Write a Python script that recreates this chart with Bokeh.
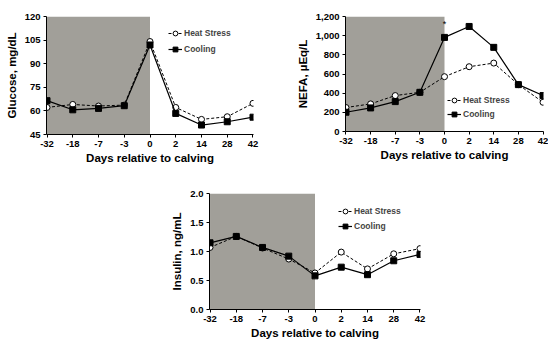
from bokeh.plotting import figure
from bokeh.models import (Range1d, FixedTicker, BoxAnnotation, Legend, LegendItem,
                          NumeralTickFormatter, Spacer, Label)
from bokeh.layouts import row, column
from bokeh.embed import file_html
from bokeh.resources import INLINE

days = ["-32", "-18", "-7", "-3", "0", "2", "14", "28", "42"]

glucose_heat = [62.2, 64.1, 63.1, 63.7, 104.1, 62.2, 54.6, 56.3, 64.8]
glucose_cool = [66.5, 60.7, 61.6, 63.3, 101.9, 58.4, 51.0, 53.1, 56.0]

nefa_heat = [250, 288, 375, 409, 572, 676, 714, 489, 305]
nefa_cool = [201, 246, 312, 409, 982, 1096, 878, 489, 375]

insulin_heat = [1.07, 1.26, 1.06, 0.87, 0.63, 0.99, 0.70, 0.96, 1.05]
insulin_cool = [1.15, 1.26, 1.07, 0.92, 0.58, 0.73, 0.60, 0.84, 0.95]

glucose_ticks = [45, 60, 75, 90, 105, 120]
nefa_ticks = [0, 200, 400, 600, 800, 1000, 1200]
insulin_ticks = [0.0, 0.5, 1.0, 1.5, 2.0]

series_names = ["Heat Stress", "Cooling"]
x_label = "Days relative to calving"
FONT = "Liberation Sans"
SHADE = "#a19f99"

xs = list(range(len(days)))
shade_end = days.index("0")


def panel(heat, cool, ticks, ylabel, fmt, frame_w, frame_h, bl, bt, br, bb,
          legend_xy, legend_spacing):
    p = figure(output_backend="svg", toolbar_location=None,
               frame_width=frame_w, frame_height=frame_h,
               min_border_left=bl, min_border_top=bt, min_border_right=br,
               min_border_bottom=bb,
               x_range=Range1d(-0.02, len(days) - 1 + 0.02),
               y_range=Range1d(ticks[0], ticks[-1]))
    p.outline_line_color = None
    p.xgrid.visible = False
    p.ygrid.visible = False
    p.background_fill_color = "white"
    p.border_fill_color = "white"

    p.add_layout(BoxAnnotation(left=0, right=shade_end, fill_color=SHADE,
                               fill_alpha=1.0, line_color=None, level="underlay"))

    l1 = p.line(xs, heat, line_color="black", line_width=1, line_dash="3 2")
    m1 = p.scatter(xs, heat, marker="circle", size=6, fill_color="white",
                   line_color="black", line_width=1)
    l2 = p.line(xs, cool, line_color="black", line_width=1.2)
    m2 = p.scatter(xs, cool, marker="square", size=6, fill_color="black",
                   line_color="black")

    for ax in (p.xaxis[0], p.yaxis[0]):
        ax.axis_line_color = "black"
        ax.major_tick_line_color = "black"
        ax.minor_tick_line_color = None
        ax.major_tick_in = 0
        ax.major_tick_out = 3
        ax.major_label_text_font = FONT
        ax.major_label_text_font_style = "bold"
        ax.major_label_text_font_size = "9.5px"
        ax.major_label_text_color = "black"
        ax.axis_label_text_font = FONT
        ax.axis_label_text_font_style = "bold"
        ax.axis_label_text_font_size = "11.5px"
        ax.axis_label_text_color = "black"

    p.xaxis.ticker = FixedTicker(ticks=xs)
    p.xaxis.major_label_overrides = {i: d for i, d in enumerate(days)}
    p.xaxis.axis_label = x_label
    p.xaxis.axis_label_standoff = 2
    p.xaxis.major_label_standoff = 3

    p.yaxis.ticker = FixedTicker(ticks=ticks)
    p.yaxis.formatter = NumeralTickFormatter(format=fmt)
    p.yaxis.axis_label = ylabel
    p.yaxis.axis_label_standoff = 4
    p.yaxis.major_label_standoff = 3

    legend = Legend(items=[LegendItem(label=series_names[0], renderers=[l1, m1]),
                           LegendItem(label=series_names[1], renderers=[l2, m2])],
                    location=legend_xy, orientation="vertical",
                    glyph_width=14, glyph_height=12, label_height=12,
                    label_standoff=2, spacing=legend_spacing, padding=0, margin=0,
                    label_text_font=FONT, label_text_font_style="bold",
                    label_text_font_size="8.5px",
                    background_fill_alpha=0, border_line_color=None)
    p.add_layout(legend, "center")
    return p


p1 = panel(glucose_heat, glucose_cool, glucose_ticks, "Glucose, mg/dL", "0",
           207, 118, 46, 13, 37, 39, (122, 79), 4)
p2 = panel(nefa_heat, nefa_cool, nefa_ticks, "NEFA, \u00b5Eq/L", "0,0",
           198, 115, 55, 16, 5, 39, (102, 11), 2)
p2.add_layout(Label(x=shade_end, y=nefa_cool[shade_end], text="*",
                    text_font=FONT, text_font_size="9px", text_color="black",
                    text_align="center", y_offset=8))
p3 = panel(insulin_heat, insulin_cool, insulin_ticks, "Insulin, ng/mL", "0.0",
           211, 116, 44, 23, 20, 32, (129, 77), 3)

layout = column(row(p1, p2), row(Spacer(width=165, height=171), p3))

open("out.html", "w").write(file_html(layout, INLINE))
